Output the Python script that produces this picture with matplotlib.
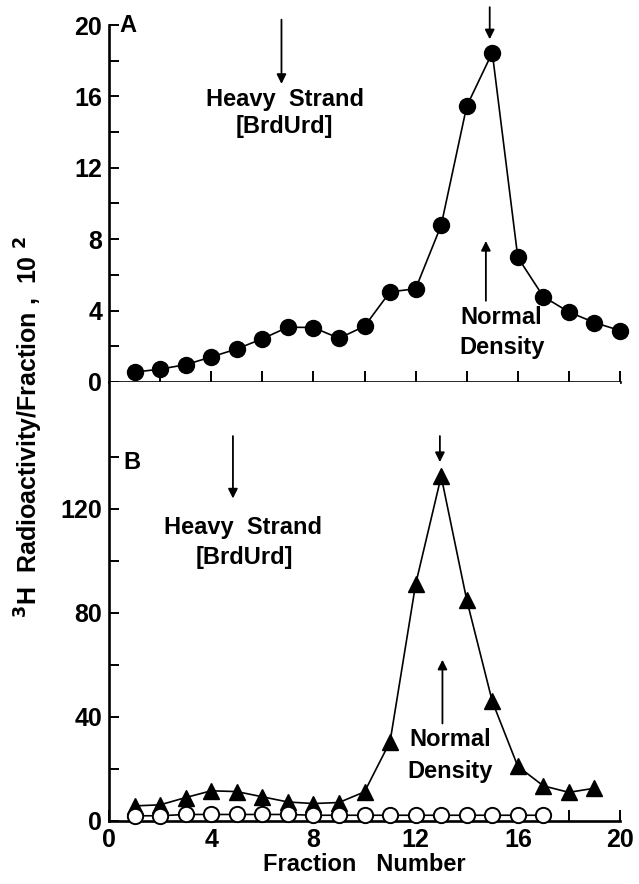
import numpy as np
import matplotlib
matplotlib.use("Agg")
import matplotlib.pyplot as plt

plt.rcParams['font.family'] = ['Liberation Sans', 'DejaVu Sans']
plt.rcParams['font.weight'] = 'bold'
plt.rcParams['axes.labelweight'] = 'bold'

# panel A: heavy strand gradient, fractions 1-20 (x 10^2)
fraction_a = list(range(1, 21))
counts_a = [0.55, 0.72, 0.97, 1.4, 1.85, 2.42, 3.07, 3.05, 2.45, 3.12,
            5.05, 5.22, 8.78, 15.45, 18.45, 6.98, 4.78, 3.92, 3.33, 2.88]

# panel B: triangles (filled) and open circles
fraction_b = list(range(1, 20))
counts_b = [5.8, 6.2, 9.0, 11.6, 11.3, 9.3, 7.3, 6.7, 7.1, 11.2,
            30.5, 91.0, 132.5, 85.0, 46.0, 21.0, 13.5, 11.0, 12.6]
fraction_c = list(range(1, 18))
counts_c = [2.0, 2.0, 2.5, 2.5, 2.5, 2.5, 2.5, 2.2, 2.2, 2.2,
            2.2, 2.2, 2.2, 2.2, 2.2, 2.2, 2.2]

fs_tick = 18
fs = 17
lw_ax = 1.9

fig = plt.figure(figsize=(6.39, 8.84), dpi=100)
axA = fig.add_axes([0.1706, 0.5679, 0.7997, 0.4038])
axB = fig.add_axes([0.1706, 0.0713, 0.7997, 0.4966])

# ---- A ----
axA.plot(fraction_a, counts_a, color='k', lw=1.2, marker='o', ms=11.5,
         mfc='k', mec='k', clip_on=False, zorder=3)
axA.set_xlim(0, 20)
axA.set_ylim(0, 20)
axA.set_xticks(np.arange(2, 21, 2))
axA.set_xticklabels([])
axA.set_yticks(np.arange(0, 21, 4))
axA.set_yticks(np.arange(0, 21, 2), minor=True)
for s in ['top', 'right']:
    axA.spines[s].set_visible(False)
for s in ['left', 'bottom']:
    axA.spines[s].set_linewidth(lw_ax)
axA.tick_params(axis='both', which='both', direction='in', length=7,
                width=1.4, labelsize=fs_tick, pad=5)
axA.tick_params(axis='x', length=8)

arr = dict(arrowstyle='-|>', color='k', lw=1.3, mutation_scale=14,
           shrinkA=0, shrinkB=0)
axA.annotate('', xy=(6.75, 16.7), xytext=(6.75, 20.3), arrowprops=arr,
             annotation_clip=False)
axA.text(6.9, 15.85, 'Heavy  Strand', ha='center', va='center', fontsize=fs)
axA.text(6.85, 14.3, '[BrdUrd]', ha='center', va='center', fontsize=fs)
axA.annotate('', xy=(14.9, 19.2), xytext=(14.9, 21.0), arrowprops=arr,
             annotation_clip=False)
axA.annotate('', xy=(14.75, 7.9), xytext=(14.75, 4.55), arrowprops=arr)
axA.text(15.35, 3.6, 'Normal', ha='center', va='center', fontsize=fs)
axA.text(15.4, 1.95, 'Density', ha='center', va='center', fontsize=fs)
axA.text(0.4, 19.95, 'A', ha='left', va='center', fontsize=fs)

# ---- B ----
axB.plot(fraction_b, counts_b, color='k', lw=1.2, marker='^', ms=11.5,
         mfc='k', mec='k', clip_on=False, zorder=3)
axB.plot(fraction_c, counts_c, color='k', lw=1.2, marker='o', ms=11,
         mfc='white', mec='k', mew=1.4, clip_on=False, zorder=4)
axB.set_xlim(0, 20)
axB.set_ylim(0, 168.8)
axB.set_xticks(np.arange(0, 21, 4))
axB.set_xticks(np.arange(0, 21, 2), minor=True)
axB.set_yticks(np.arange(0, 121, 40))
axB.set_yticks(np.arange(0, 141, 20), minor=True)
for s in ['top', 'right']:
    axB.spines[s].set_visible(False)
for s in ['left', 'bottom']:
    axB.spines[s].set_linewidth(lw_ax)
axB.tick_params(axis='both', which='both', direction='in', length=7,
                width=1.4, labelsize=fs_tick, pad=5)
axB.tick_params(axis='x', which='both', length=8)

axB.annotate('', xy=(4.85, 124), xytext=(4.85, 148), arrowprops=arr)
axB.text(5.25, 113, 'Heavy  Strand', ha='center', va='center', fontsize=fs)
axB.text(5.3, 101.5, '[BrdUrd]', ha='center', va='center', fontsize=fs)
axB.annotate('', xy=(12.95, 138), xytext=(12.95, 148), arrowprops=arr)
axB.annotate('', xy=(13.05, 62), xytext=(13.05, 37.5), arrowprops=arr)
axB.text(13.35, 31.5, 'Normal', ha='center', va='center', fontsize=fs)
axB.text(13.35, 18.9, 'Density', ha='center', va='center', fontsize=fs)
axB.text(0.55, 138, 'B', ha='left', va='center', fontsize=fs)

axB.set_xlabel('Fraction   Number', fontsize=fs, fontweight='bold', labelpad=1)

fig.text(0.045, 0.517, r'$^{\mathbf{3}}$H  Radioactivity/Fraction ,  10 $^{\mathbf{2}}$',
         rotation=90, ha='center', va='center', fontsize=18)

fig.savefig('out.png', dpi=100)
